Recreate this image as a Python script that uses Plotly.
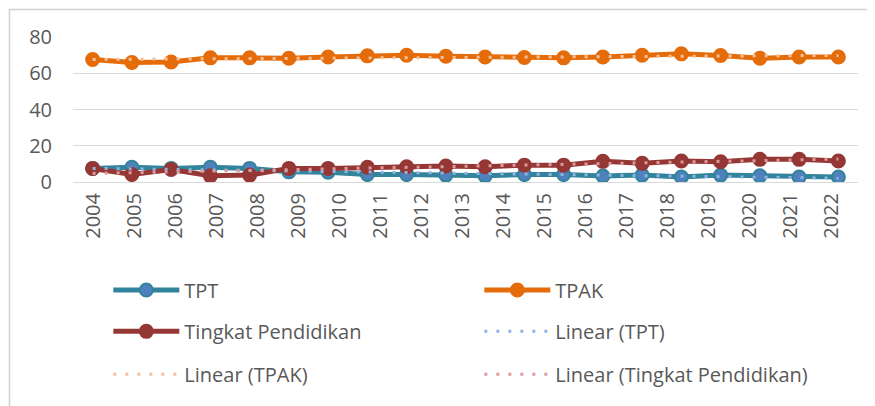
import numpy as np
import plotly.graph_objects as go

# ---- data ----
years = ["2004", "2005", "2006", "2007", "2008", "2009", "2010", "2011", "2012", "2013",
         "2014", "2015", "2016", "2017", "2018", "2019", "2020", "2021", "2022"]
# 20 plotted points per series (as in the source chart)
tpt = [7.5, 8.1, 7.5, 8.1, 7.5, 5.6, 5.4, 4.1, 4.1, 3.8,
       3.4, 4.1, 4.1, 3.3, 3.8, 2.8, 3.8, 3.4, 2.8, 2.8]
tpak = [67.6, 65.9, 66.2, 68.5, 68.5, 68.3, 69.0, 69.6, 69.9, 69.4,
        69.0, 68.7, 68.5, 69.0, 69.9, 70.7, 69.8, 68.3, 69.0, 69.0]
pendidikan = [7.5, 4.1, 6.9, 3.4, 3.8, 7.5, 7.5, 8.1, 8.4, 8.8,
              8.4, 9.3, 9.3, 11.4, 10.3, 11.6, 11.2, 12.5, 12.5, 11.6]
series_names = ["TPT", "TPAK", "Tingkat Pendidikan"]

idx = np.arange(len(tpt))


def trend(vals):
    a, b = np.polyfit(idx, vals, 1)
    return a * idx + b


TEXT = "#595959"
GRID = "#d9d9d9"
FONT = "Open Sans"

fig = go.Figure()

main_styles = [
    dict(line=dict(color="#31849b", width=5),
         marker=dict(size=13, color="#4f81bd", line=dict(color="#31849b", width=2))),
    dict(line=dict(color="#e46c0a", width=5),
         marker=dict(size=13, color="#e46c0a", line=dict(color="#e46c0a", width=2))),
    dict(line=dict(color="#953735", width=5),
         marker=dict(size=13, color="#953735", line=dict(color="#953735", width=2))),
]
trend_colors = ["#8eb4e3", "#f9bf94", "#dc9b9a"]
legend_ids = ["legend", "legend", "legend2", "legend2", "legend3", "legend3"]

datas = [tpt, tpak, pendidikan]
for k, (name, vals) in enumerate(zip(series_names, datas)):
    fig.add_trace(go.Scatter(x=idx, y=vals, name=name, mode="lines+markers",
                             legend=legend_ids[k], hoverinfo="skip", **main_styles[k]))
for k, (name, vals) in enumerate(zip(series_names, datas)):
    fig.add_trace(go.Scatter(x=idx, y=trend(vals), name=f"Linear ({name})", mode="lines",
                             legend=legend_ids[3 + k], hoverinfo="skip",
                             line=dict(color=trend_colors[k], width=3, dash="3px,9px")))

# label axis (categories)
fig.add_trace(go.Scatter(x=years, y=[None] * len(years), xaxis="x2", showlegend=False,
                         hoverinfo="skip", mode="markers"))

legend_common = dict(orientation="h", entrywidth=290, entrywidthmode="pixels",
                     font=dict(family=FONT, size=20, color=TEXT), bgcolor="rgba(0,0,0,0)",
                     xanchor="left", yanchor="middle", itemwidth=66, traceorder="normal")

# page has an 8px body margin; margins below compensate so the plot area
# sits at x 73..858, y 37..182 in the screenshot
ML, MT, MB = 65, 29, 232
PW, PH = 875 - ML - 25, 406 - MT - MB
fig.update_layout(
    width=875, height=406,
    margin=dict(l=ML, r=25, t=MT, b=MB, autoexpand=False),
    paper_bgcolor="white", plot_bgcolor="white",
    font=dict(family=FONT, color=TEXT),
    xaxis=dict(range=[-0.5, len(tpt) - 0.5], showticklabels=False, showgrid=False,
               zeroline=False, showline=False, ticks=""),
    xaxis2=dict(overlaying="x", anchor="y", side="bottom", type="category",
                range=[-0.5, len(years) - 0.35], tickangle=-90, showgrid=False,
                zeroline=False, showline=False, ticks="", ticklabelstandoff=6,
                tickfont=dict(family=FONT, size=20, color=TEXT)),
    yaxis=dict(range=[0, 80], dtick=20, showgrid=True, gridcolor=GRID, gridwidth=1,
               zeroline=True, zerolinecolor=GRID, zerolinewidth=1, showline=False,
               ticks="", ticklabelstandoff=20,
               tickfont=dict(family=FONT, size=20, color=TEXT)),
    legend=dict(x=0.045, y=-0.745, **legend_common),
    legend2=dict(x=0.045, y=-1.03, **legend_common),
    legend3=dict(x=0.045, y=-1.325, **legend_common),
    showlegend=True,
    # chart frame (top and left edges visible in the crop)
    shapes=[dict(type="rect", xref="paper", yref="paper",
                 x0=(1.5 - ML) / PW, x1=1.2, y0=-3, y1=(PH + MT - 1.5) / PH,
                 line=dict(color="#d0d0d0", width=1.5), fillcolor="rgba(0,0,0,0)",
                 layer="above")],
)

fig.write_html("out.html")
